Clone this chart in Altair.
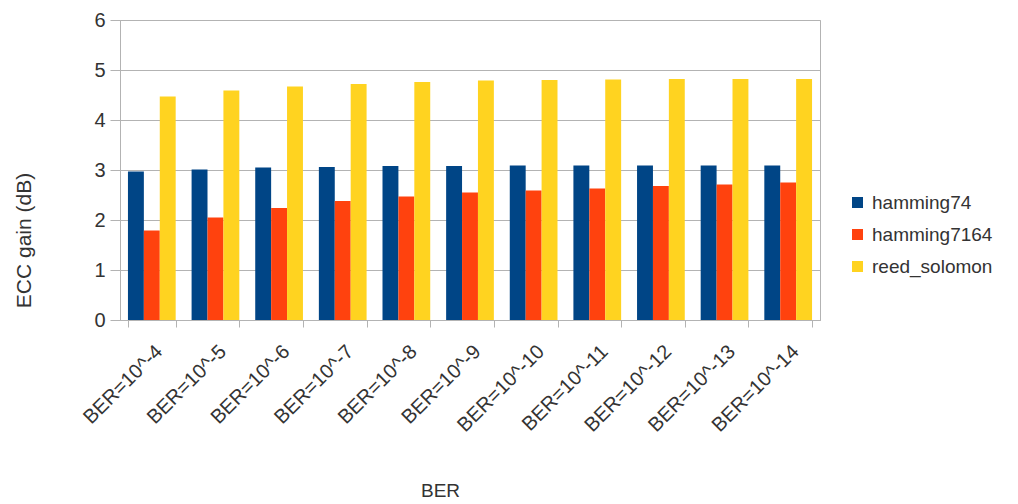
import altair as alt
import pandas as pd

categories = ["BER=10^-4", "BER=10^-5", "BER=10^-6", "BER=10^-7", "BER=10^-8",
              "BER=10^-9", "BER=10^-10", "BER=10^-11", "BER=10^-12", "BER=10^-13", "BER=10^-14"]
series = ["hamming74", "hamming7164", "reed_solomon"]
hamming74 = [2.97, 3.01, 3.05, 3.06, 3.08, 3.08, 3.09, 3.09, 3.09, 3.09, 3.09]
hamming7164 = [1.79, 2.05, 2.24, 2.38, 2.47, 2.55, 2.59, 2.63, 2.68, 2.71, 2.75]
reed_solomon = [4.47, 4.59, 4.67, 4.72, 4.76, 4.79, 4.80, 4.81, 4.82, 4.82, 4.82]
colors = ["#004586", "#ff420e", "#ffd320"]

rows = []
for name, vals in zip(series, [hamming74, hamming7164, reed_solomon]):
    for c, v in zip(categories, vals):
        rows.append({"BER": c, "series": name, "gain": v})
df = pd.DataFrame(rows)

FONT = "Liberation Sans"
TXT = "#333333"
LINE = "#b3b3b3"

chart = alt.Chart(df).mark_bar().encode(
    x=alt.X("BER:N", sort=categories, title="BER",
            scale=alt.Scale(paddingInner=0.25, paddingOuter=0.125),
            axis=alt.Axis(labelAngle=-45, labelFontSize=20, labelColor=TXT,
                          labelFont=FONT, tickBand="extent", tickSize=7,
                          tickColor=LINE, domainColor=LINE,
                          titleFontSize=19, titleColor=TXT, titleFont=FONT,
                          titleFontWeight="normal", titleX=320, titleY=170,
                          titleBaseline="middle",
                          labelPadding=14)),
    xOffset=alt.XOffset("series:N", sort=series),
    y=alt.Y("gain:Q", title="ECC gain (dB)",
            scale=alt.Scale(domain=[0, 6]),
            axis=alt.Axis(values=[0, 1, 2, 3, 4, 5, 6], labelFontSize=20,
                          labelColor=TXT, labelFont=FONT, tickSize=10,
                          tickColor=LINE, domainColor=LINE,
                          gridColor=LINE, titleFontSize=21,
                          titleColor=TXT, titleFont=FONT,
                          titleFontWeight="normal", titleX=-96, titleY=220,
                          titleBaseline="middle",
                          labelPadding=5)),
    color=alt.Color("series:N", sort=series,
                    scale=alt.Scale(domain=series, range=colors),
                    legend=alt.Legend(title=None, labelFontSize=19,
                                      labelColor=TXT, labelFont=FONT,
                                      symbolType="square", symbolSize=121,
                                      symbolStrokeWidth=0, orient="none",
                                      legendX=728, legendY=173, padding=0,
                                      rowPadding=12, labelOffset=5)),
).properties(
    width=700, height=300,
    padding={"left": 5, "top": 2, "right": 5, "bottom": 0},
).configure_view(
    stroke=LINE
).configure_axisX(grid=False)

chart.save("out.html", embed_options={"renderer": "svg", "actions": False})
